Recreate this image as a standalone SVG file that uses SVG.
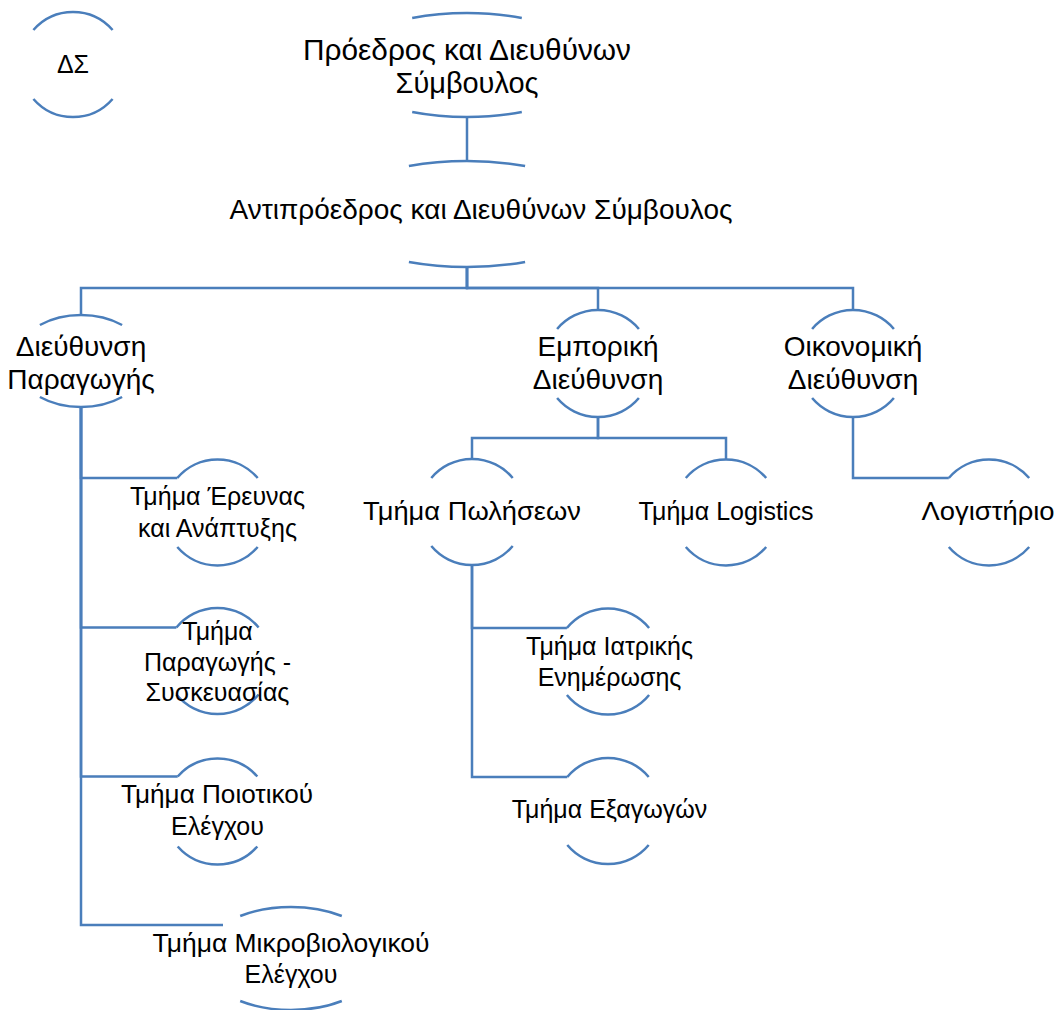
<svg xmlns="http://www.w3.org/2000/svg" width="1059" height="1010" viewBox="0 0 1059 1010">
<style>
.arc{fill:none;stroke:#4a7ebb;stroke-width:2.5}
.conn{fill:none;stroke:#4a7ebb;stroke-width:2.5}
text{font-family:"Liberation Sans",Arial,sans-serif;fill:#000;text-anchor:middle}
.l0{font-size:30px}
.l1{font-size:28px}
.l2{font-size:28px}
.l3{font-size:25px}
</style>
<rect width="1059" height="1010" fill="#fff"/>
<g id="connectors">
<path class="conn" d="M467,117 V161"/>
<path class="conn" d="M467,267 V288 H81 V315"/>
<path class="conn" d="M467,267 V288 H598 V310"/>
<path class="conn" d="M467,267 V288 H853 V310"/>
<path class="conn" d="M81,407 V478 H177.3"/>
<path class="conn" d="M81,407 V627.5 H176.4"/>
<path class="conn" d="M81,407 V776.5 H177.7"/>
<path class="conn" d="M81,407 V925 H223"/>
<path class="conn" d="M598,417 V438 H472 V459"/>
<path class="conn" d="M598,417 V438 H726 V459"/>
<path class="conn" d="M853,417 V478 H948.8"/>
<path class="conn" d="M472,565 V628 H566.9"/>
<path class="conn" d="M472,565 V777 H567.3"/>
</g>
<g id="node-ds">
<path class="arc" d="M33.4,30 A52.5,52.5 0 0 1 112.6,30"/>
<path class="arc" d="M33.4,99 A52.5,52.5 0 0 0 112.6,99"/>
<text class="l3" x="73" y="73">ΔΣ</text>
</g>
<g id="node-proedros">
<path class="arc" d="M412.2,18 A128,52 0 0 1 521.8,18"/>
<path class="arc" d="M412.2,112 A128,52 0 0 0 521.8,112"/>
<text class="l0" x="467" y="60" textLength="328" lengthAdjust="spacingAndGlyphs">Πρόεδρος και Διευθύνων</text>
<text class="l0" x="467" y="93" textLength="143" lengthAdjust="spacingAndGlyphs">Σύμβουλος</text>
</g>
<g id="node-antiproedros">
<path class="arc" d="M408.9,166 A137,53 0 0 1 525.1,166"/>
<path class="arc" d="M408.9,262 A137,53 0 0 0 525.1,262"/>
<text class="l1" x="481" y="219" textLength="503" lengthAdjust="spacingAndGlyphs">Αντιπρόεδρος και Διευθύνων Σύμβουλος</text>
</g>
<g id="node-dieuthynsi-paragogis">
<path class="arc" d="M39.9,325 A66,46 0 0 1 122.1,325"/>
<path class="arc" d="M39.9,397 A66,46 0 0 0 122.1,397"/>
<text class="l2" x="81" y="356">Διεύθυνση</text>
<text class="l2" x="81" y="389">Παραγωγής</text>
</g>
<g id="node-emporiki">
<path class="arc" d="M557.1,329 A53.5,53.5 0 0 1 638.9,329"/>
<path class="arc" d="M557.1,398 A53.5,53.5 0 0 0 638.9,398"/>
<text class="l2" x="598" y="356">Εμπορική</text>
<text class="l2" x="598" y="389">Διεύθυνση</text>
</g>
<g id="node-oikonomiki">
<path class="arc" d="M812.1,329 A53.5,53.5 0 0 1 893.9,329"/>
<path class="arc" d="M812.1,398 A53.5,53.5 0 0 0 893.9,398"/>
<text class="l2" x="853" y="356">Οικονομική</text>
<text class="l2" x="853" y="389">Διεύθυνση</text>
</g>
<g id="node-ereuna">
<path class="arc" d="M177.3,478 A53,53 0 0 1 257.7,478"/>
<path class="arc" d="M177.3,547 A53,53 0 0 0 257.7,547"/>
<text class="l3" x="217.5" y="505">Τμήμα Έρευνας</text>
<text class="l3" x="217.5" y="537">και Ανάπτυξης</text>
</g>
<g id="node-paragogi-syskeuasia">
<path class="arc" d="M176.4,627.5 A53,53 0 0 1 258.6,627.5"/>
<path class="arc" d="M176.4,694.5 A53,53 0 0 0 258.6,694.5"/>
<text class="l3" x="217.5" y="640">Τμήμα</text>
<text class="l3" x="217.5" y="671">Παραγωγής -</text>
<text class="l3" x="217.5" y="701">Συσκευασίας</text>
</g>
<g id="node-poiotikos">
<path class="arc" d="M177.7,776.5 A53,53 0 0 1 257.3,776.5"/>
<path class="arc" d="M177.7,846.5 A53,53 0 0 0 257.3,846.5"/>
<text class="l3" x="217" y="803" textLength="192" lengthAdjust="spacingAndGlyphs">Τμήμα Ποιοτικού</text>
<text class="l3" x="217.5" y="835">Ελέγχου</text>
</g>
<g id="node-mikrobiologikos">
<path class="arc" d="M240.2,916 A90,51.5 0 0 1 341.8,916"/>
<path class="arc" d="M240.2,1001 A90,51.5 0 0 0 341.8,1001"/>
<text class="l3" x="291" y="952" textLength="277" lengthAdjust="spacingAndGlyphs">Τμήμα Μικροβιολογικού</text>
<text class="l3" x="291" y="983">Ελέγχου</text>
</g>
<g id="node-poliseis">
<path class="arc" d="M431.3,478 A53,53 0 0 1 512.7,478"/>
<path class="arc" d="M431.3,546 A53,53 0 0 0 512.7,546"/>
<text class="l3" x="472" y="520" textLength="218" lengthAdjust="spacingAndGlyphs">Τμήμα Πωλήσεων</text>
</g>
<g id="node-logistics">
<path class="arc" d="M685.8,478 A53,53 0 0 1 766.2,478"/>
<path class="arc" d="M685.8,547 A53,53 0 0 0 766.2,547"/>
<text class="l3" x="726" y="520">Τμήμα Logistics</text>
</g>
<g id="node-logistirio">
<path class="arc" d="M948.8,478 A53,53 0 0 1 1029.2,478"/>
<path class="arc" d="M948.8,547 A53,53 0 0 0 1029.2,547"/>
<text class="l3" x="988" y="520" textLength="133" lengthAdjust="spacingAndGlyphs">Λογιστήριο</text>
</g>
<g id="node-iatriki">
<path class="arc" d="M566.9,628 A53,53 0 0 1 649.1,628"/>
<path class="arc" d="M566.9,695 A53,53 0 0 0 649.1,695"/>
<text class="l3" x="609.5" y="655">Τμήμα Ιατρικής</text>
<text class="l3" x="609.5" y="686">Ενημέρωσης</text>
</g>
<g id="node-exagoges">
<path class="arc" d="M567.3,777 A53,53 0 0 1 648.7,777"/>
<path class="arc" d="M567.3,845 A53,53 0 0 0 648.7,845"/>
<text class="l3" x="609.5" y="818">Τμήμα Εξαγωγών</text>
</g>
</svg>
